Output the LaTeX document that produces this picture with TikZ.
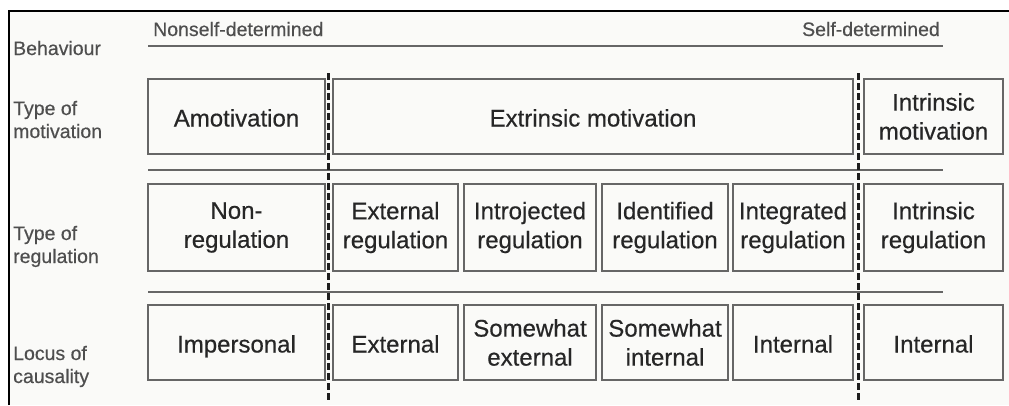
\documentclass[tikz,border=0pt]{standalone}
\usepackage{fontspec}
\setmainfont{Liberation Sans}[BoldFont={Liberation Sans}, BoldFeatures={FakeBold=0.45}]
\definecolor{bgcol}{HTML}{FAFAF8}
\definecolor{boxline}{HTML}{666666}
\definecolor{txtcol}{HTML}{262626}
\definecolor{lblcol}{HTML}{4E4E4E}
\definecolor{dashcol}{HTML}{1E1E1E}
\tikzset{
  cell/.style={draw=boxline, line width=1.8pt, text=txtcol, align=center, inner sep=0pt,
    font=\fontsize{24}{29}\selectfont\bfseries},
  oneline/.style={text height=21pt, text depth=1pt},
  rowlabel/.style={anchor=base west, inner sep=0pt, text=lblcol, font=\fontsize{19.5}{23}\selectfont\bfseries},
  scalelabel/.style={inner sep=0pt, text=lblcol, font=\fontsize{19.5}{23}\selectfont\bfseries},
  rule/.style={draw=boxline, line width=1.8pt},
  divider/.style={draw=dashcol, line width=2.2pt, dash pattern=on 6.5pt off 3.5pt},
  frame/.style={draw=black, line width=1.5pt}
}
\begin{document}
\begin{tikzpicture}[x=1pt,y=-1pt]
\useasboundingbox (0,0) rectangle (1009,405);
\fill[white] (0,0) rectangle (1009,405);
\fill[bgcol] (9,11) rectangle (1009,405);
% frame
\coordinate (fTL) at (9,11);
\coordinate (fTR) at (1009,11);
\coordinate (fBL) at (9,405);
\draw[frame] (fBL) -- (fTL) -- (fTR);

% behaviour scale
\node[scalelabel, anchor=base west] (nonself) at (153,36) {Nonself-determined};
\node[scalelabel, anchor=base east] (selfdet) at (940,36) {Self-determined};
\coordinate (sL) at (148,46);
\coordinate (sR) at (943,46);
\draw[rule] (sL) -- (sR);

% row labels
\node[rowlabel] (lbeh) at (13,55) {Behaviour};
\node[rowlabel] (lmot1) at (13,115) {Type of};
\node[rowlabel] (lmot2) at (13,138) {motivation};
\node[rowlabel] (lreg1) at (13,240) {Type of};
\node[rowlabel] (lreg2) at (13,263) {regulation};
\node[rowlabel] (lloc1) at (13,360) {Locus of};
\node[rowlabel] (lloc2) at (13,383) {causality};

% row separators
\coordinate (r1L) at (148,170);
\coordinate (r1R) at (943,170);
\coordinate (r2L) at (148,292);
\coordinate (r2R) at (943,292);
\draw[rule] (r1L) -- (r1R);
\draw[rule] (r2L) -- (r2R);

% row 1: type of motivation
\node[cell, oneline, minimum width=177pt, minimum height=75pt] (amot) at (236.5,116.5) {Amotivation};
\node[cell, oneline, minimum width=520pt, minimum height=75pt] (extr) at (593,116.5) {Extrinsic motivation};
\node[cell, minimum width=139pt, minimum height=75pt] (intr) at (933.5,116.5) {Intrinsic\\motivation};

% row 2: type of regulation
\node[cell, minimum width=177pt, minimum height=87pt] (nonreg) at (236.5,227.5) {Non-\\regulation};
\node[cell, minimum width=125pt, minimum height=87pt] (extreg) at (395.5,227.5) {External\\regulation};
\node[cell, minimum width=132pt, minimum height=87pt] (introreg) at (530,227.5) {Introjected\\regulation};
\node[cell, minimum width=126pt, minimum height=87pt] (identreg) at (665,227.5) {Identified\\regulation};
\node[cell, minimum width=120pt, minimum height=87pt] (integreg) at (793,227.5) {Integrated\\regulation};
\node[cell, minimum width=139pt, minimum height=87pt] (intrreg) at (933.5,227.5) {Intrinsic\\regulation};

% row 3: locus of causality
\node[cell, oneline, minimum width=177pt, minimum height=75pt] (impers) at (236.5,342.5) {Impersonal};
\node[cell, oneline, minimum width=125pt, minimum height=75pt] (extloc) at (395.5,342.5) {External};
\node[cell, minimum width=132pt, minimum height=75pt] (swext) at (530,342.5) {Somewhat\\external};
\node[cell, minimum width=126pt, minimum height=75pt] (swint) at (665,342.5) {Somewhat\\internal};
\node[cell, oneline, minimum width=120pt, minimum height=75pt] (intloc) at (793,342.5) {Internal};
\node[cell, oneline, minimum width=139pt, minimum height=75pt] (intloc2) at (933.5,342.5) {Internal};

% dashed dividers
\coordinate (d1T) at (328.5,73);
\coordinate (d1B) at (328.5,401);
\coordinate (d2T) at (858.5,73);
\coordinate (d2B) at (858.5,401);
\draw[divider] (d1T) -- (d1B);
\draw[divider] (d2T) -- (d2B);
\end{tikzpicture}
\end{document}
